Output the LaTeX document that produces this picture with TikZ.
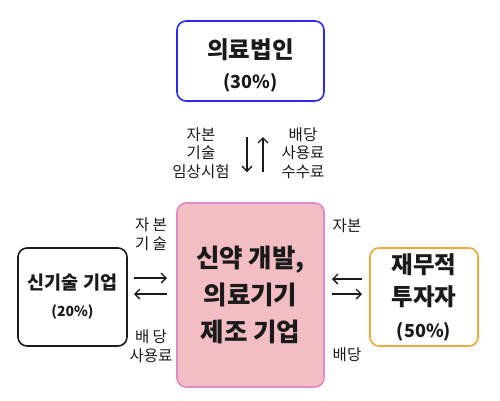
\documentclass[tikz,border=0pt]{standalone}
\usepackage{fontspec}
\setmainfont{Noto Sans CJK KR}
\usetikzlibrary{arrows.meta}
\definecolor{cTop}  {HTML}{2A2AF0}
\definecolor{cMidF} {HTML}{F2BEC3}
\definecolor{cMidD} {HTML}{E08AC8}
\definecolor{cFin}  {HTML}{F2A836}
\definecolor{ink}   {HTML}{1A1A1A}
\newcommand{\fsz}[2]{\fontsize{#1}{#2}\selectfont}

\begin{document}
\begin{tikzpicture}[x=1pt,y=-1pt,
    box/.style ={draw,rounded corners=9pt,line width=1.6pt,align=center,
                 inner sep=0pt,text=ink},
    lbl/.style ={font=\fsz{15.5}{18.5},text=ink,align=center,
                 inner sep=0pt},
    flow/.style={draw=ink,line width=1.3pt,
                 -{Straight Barb[length=5pt,width=10pt,line width=1.3pt]}},
  ]

% fixed bounding box
\path (0,0) rectangle (500,400);

% ---- boxes -----------------------------------------------------------------
\node[box,draw=cTop,minimum width=147,minimum height=80,
      font=\bfseries\fsz{23.5}{30}] (corp) at (250.5,61)
  {\rule{0pt}{28pt}의료법인\\ \fsz{18}{30}(30\%)};

\node[box,draw=cMidD,fill=cMidF,minimum width=147,minimum height=184,
      font=\bfseries\fsz{25.5}{37}] (maker) at (250.5,295)
  {신약 개발,\\ 의료기기\\ 제조 기업};

\node[box,draw=ink,minimum width=109,minimum height=98,
      font=\bfseries\fsz{18.5}{27}] (tech) at (72.5,297)
  {신기술 기업\\ \fsz{14}{27}(20\%)};

\node[box,draw=cFin,minimum width=108,minimum height=98,
      font=\bfseries\fsz{23.5}{32}] (fin) at (424,297)
  {재무적\\ 투자자\\ \fsz{18}{32}(50\%)};

% ---- corp <-> maker --------------------------------------------------------
\coordinate (cd1) at (247,137);
\coordinate (cd2) at (247,172);
\coordinate (cu1) at (263,172);
\coordinate (cu2) at (263,137);
\draw[flow] (cd1) -- (cd2);
\draw[flow] (cu1) -- (cu2);
\node[lbl] (corpIn)  at (201,153) {자본\\기술\\임상시험};
\node[lbl] (corpOut) at (303,153) {배당\\사용료\\수수료};

% ---- tech <-> maker --------------------------------------------------------
\coordinate (tr1) at (134,278);
\coordinate (tr2) at (167,278);
\coordinate (tl1) at (167,294);
\coordinate (tl2) at (134,294);
\draw[flow] (tr1) -- (tr2);
\draw[flow] (tl1) -- (tl2);
\node[lbl] (techIn)  at (151,234) {자 본\\기 술};
\node[lbl] (techOut) at (151,346) {배 당\\사용료};

% ---- fin <-> maker ---------------------------------------------------------
\coordinate (fl1) at (362,279);
\coordinate (fl2) at (332,279);
\coordinate (fr1) at (332,294);
\coordinate (fr2) at (362,294);
\draw[flow] (fl1) -- (fl2);
\draw[flow] (fr1) -- (fr2);
\node[lbl] (finIn)  at (347,226) {자본};
\node[lbl] (finOut) at (347,355) {배당};

\end{tikzpicture}
\end{document}
